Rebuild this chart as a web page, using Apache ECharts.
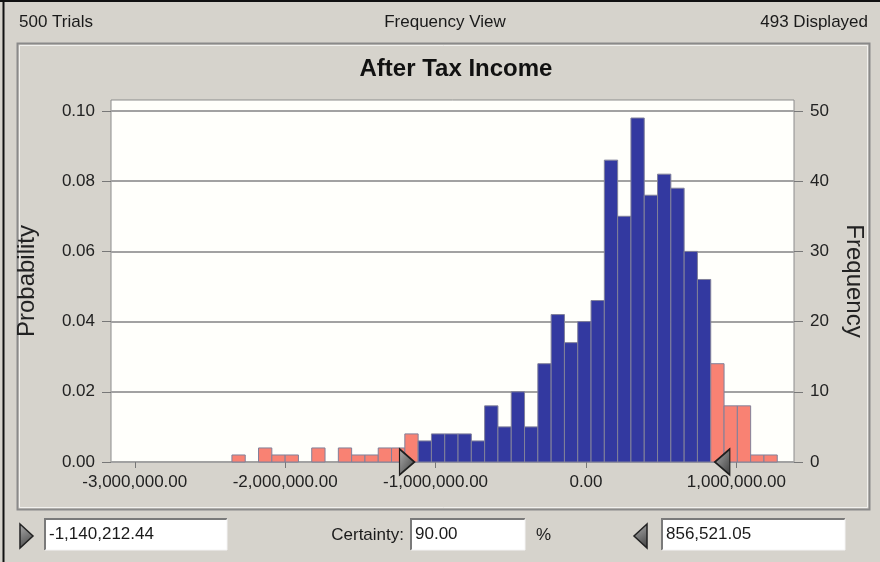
<!DOCTYPE html>
<html>
<head>
<meta charset="utf-8">
<script src="https://cdn.jsdelivr.net/npm/echarts@6/dist/echarts.min.js"></script>
<style>
  html, body { margin: 0; padding: 0; background: #d6d3cc; }
  #chart { width: 880px; height: 562px; }
</style>
</head>
<body>
<div id="chart"></div>
<script>
// histogram: counts per bin (500 trials, 493 displayed)
var binCounts = [1, 0, 2, 1, 1, 0, 2, 0, 2, 1, 1, 2, 2, 4,
  3, 4, 4, 4, 3, 8, 5, 10, 5, 14, 21, 17, 20, 23, 43, 35, 49, 38, 41, 39, 30, 26,
  14, 8, 8, 1, 1];
var binMin = -2354000;
var binWidth = 88430;
var trials = 500;

// certainty range
var lowerValue = -1140212.44;
var upperValue = 856521.05;
var certainty = 90.00;

var xTicks = [-3000000, -2000000, -1000000, 0, 1000000];
var probTicks = [0, 0.02, 0.04, 0.06, 0.08, 0.10];
var freqTicks = [0, 10, 20, 30, 40, 50];

var BLUE = '#3339a0';
var RED = '#f98273';
var FONT = 'Liberation Sans, Arial, sans-serif';

function fmtMoney(v) {
  var s = Math.abs(v).toFixed(2).split('.');
  s[0] = s[0].replace(/\B(?=(\d{3})+(?!\d))/g, ',');
  return (v < 0 ? '-' : '') + s.join('.');
}

// build bins [start, end, count, inRange]
var bins = [];
for (var i = 0; i < binCounts.length; i++) {
  var s = binMin + i * binWidth;
  var mid = s + binWidth / 2;
  bins.push([s, s + binWidth, binCounts[i], (mid >= lowerValue && mid <= upperValue) ? 1 : 0]);
}

var chart = echarts.init(document.getElementById('chart'));

var triGrad = new echarts.graphic.LinearGradient(0, 0, 1, 1, [
  { offset: 0, color: '#b0b0b0' },
  { offset: 1, color: '#3c3c3c' }
]);

function textBox(x, y, w, h, txt) {
  return [
    { type: 'rect', shape: { x: x, y: y, width: w, height: h }, style: { fill: '#ffffff', stroke: null } },
    { type: 'polyline', shape: { points: [[x, y + h], [x, y], [x + w, y]] }, style: { stroke: '#7a7a7a', lineWidth: 2, fill: null } },
    { type: 'polyline', shape: { points: [[x + w, y], [x + w, y + h], [x, y + h]] }, style: { stroke: '#f4f4f4', lineWidth: 1, fill: null } },
    { type: 'text', x: x + 4, y: y + h / 2, style: { text: txt, font: '17px ' + FONT, fill: '#1a1a1a', verticalAlign: 'middle' } }
  ];
}

var graphics = [
  // window edges
  { type: 'line', shape: { x1: 3.5, y1: 0, x2: 3.5, y2: 562 }, style: { stroke: '#111', lineWidth: 2 } },
  { type: 'line', shape: { x1: 0, y1: 1, x2: 880, y2: 1 }, style: { stroke: '#111', lineWidth: 2 } },
  // header
  { type: 'text', x: 19, y: 22, style: { text: trials + ' Trials', font: '17px ' + FONT, fill: '#1a1a1a', verticalAlign: 'middle' } },
  { type: 'text', x: 445, y: 22, style: { text: 'Frequency View', font: '17px ' + FONT, fill: '#1a1a1a', align: 'center', verticalAlign: 'middle' } },
  { type: 'text', x: 868, y: 22, style: { text: '493 Displayed', font: '17px ' + FONT, fill: '#1a1a1a', align: 'right', verticalAlign: 'middle' } },
  // panel
  { type: 'rect', z: -1, shape: { x: 17.5, y: 43.5, width: 852, height: 466 }, style: { fill: null, stroke: '#8a8a8a', lineWidth: 2 } },
  { type: 'rect', z: -1, shape: { x: 19.5, y: 45.5, width: 848, height: 462 }, style: { fill: null, stroke: '#f2f1ee', lineWidth: 1 } },
  // footer arrows
  { type: 'polygon', shape: { points: [[20, 524], [33, 536], [20, 548]] }, style: { fill: triGrad, stroke: '#222', lineWidth: 1.5 } },
  { type: 'polygon', shape: { points: [[647, 524], [634, 536], [647, 548]] }, style: { fill: triGrad, stroke: '#222', lineWidth: 1.5 } },
  { type: 'text', x: 404, y: 535, style: { text: 'Certainty:', font: '17px ' + FONT, fill: '#1a1a1a', align: 'right', verticalAlign: 'middle' } },
  { type: 'text', x: 536, y: 535, style: { text: '%', font: '17px ' + FONT, fill: '#1a1a1a', verticalAlign: 'middle' } }
];
graphics = graphics
  .concat(textBox(45, 519, 182, 31, fmtMoney(lowerValue)))
  .concat(textBox(411, 519, 114, 31, certainty.toFixed(2)))
  .concat(textBox(662, 519, 183, 31, fmtMoney(upperValue)));

var option = {
  animation: false,
  backgroundColor: '#d6d3cc',
  title: {
    text: 'After Tax Income',
    left: 451,
    top: 52,
    textAlign: 'center',
    textStyle: { fontFamily: FONT, fontSize: 24, fontWeight: 'bold', color: '#111' }
  },
  grid: {
    left: 111, right: 86, top: 100, bottom: 100,
    show: true, backgroundColor: '#fffffb', borderColor: '#8c8c8c', borderWidth: 1
  },
  xAxis: {
    type: 'value',
    min: -3158000,
    max: 1383000,
    axisLine: { show: false, onZero: false },
    splitLine: { show: false },
    axisTick: { show: true, length: 6, customValues: xTicks, lineStyle: { color: '#777' } },
    axisLabel: {
      customValues: xTicks, margin: 12, color: '#222',
      fontFamily: FONT, fontSize: 17,
      formatter: function (v) { return fmtMoney(v); }
    }
  },
  yAxis: [
    {
      type: 'value',
      min: 0,
      max: 0.10313,
      position: 'left',
      name: 'Probability',
      nameLocation: 'middle',
      nameGap: 72,
      nameTextStyle: { fontFamily: FONT, fontSize: 24, color: '#222' },
      axisLine: { show: false, onZero: false },
      axisTick: { show: true, length: 9, customValues: probTicks, lineStyle: { color: '#777' } },
      axisLabel: {
        customValues: probTicks, margin: 16, color: '#222',
        fontFamily: FONT, fontSize: 17,
        formatter: function (v) { return v.toFixed(2); }
      },
      splitLine: { show: true, lineStyle: { color: '#a2a2a2', width: 2 } }
    },
    {
      type: 'value',
      min: 0,
      max: 0.10313 * trials,
      position: 'right',
      name: 'Frequency',
      nameLocation: 'middle',
      nameGap: 48,
      nameRotate: -90,
      nameTextStyle: { fontFamily: FONT, fontSize: 24, color: '#222' },
      axisLine: { show: false, onZero: false },
      axisTick: { show: true, length: 9, customValues: freqTicks, lineStyle: { color: '#777' } },
      axisLabel: {
        customValues: freqTicks, margin: 16, color: '#222',
        fontFamily: FONT, fontSize: 17
      },
      splitLine: { show: false }
    }
  ],
  series: [
    {
      type: 'custom',
      yAxisIndex: 1,
      data: bins,
      encode: { x: [0, 1], y: 2 },
      renderItem: function (params, api) {
        var p0 = api.coord([api.value(0), api.value(2)]);
        var p1 = api.coord([api.value(1), 0]);
        if (api.value(2) <= 0) return;
        return {
          type: 'rect',
          shape: { x: p0[0], y: p0[1], width: p1[0] - p0[0], height: p1[1] - p0[1] },
          style: { fill: api.value(3) ? BLUE : RED, stroke: '#80809a', lineWidth: 1 }
        };
      }
    },
    {
      type: 'scatter',
      yAxisIndex: 1,
      silent: true,
      z: 5,
      data: [
        { value: [lowerValue, 0], symbol: 'path://M0,0L15,13L0,26Z', symbolOffset: [-7.5, 0] },
        { value: [upperValue, 0], symbol: 'path://M15,0L0,13L15,26Z', symbolOffset: [7.5, 0] }
      ],
      symbolSize: [15, 26],
      itemStyle: { color: triGrad, borderColor: '#1e1e1e', borderWidth: 1.5, opacity: 1 }
    }
  ],
  graphic: graphics
};

chart.setOption(option);
</script>
</body>
</html>
